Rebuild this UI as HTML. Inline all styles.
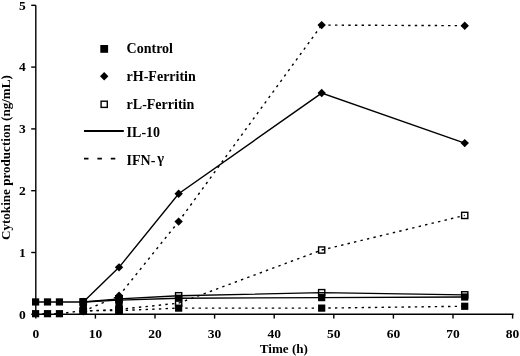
<!DOCTYPE html>
<html><head><meta charset="utf-8"><style>
html,body{margin:0;padding:0;background:#fff;width:520px;height:356px;overflow:hidden}
svg{display:block}
text.lg{font-size:14px}
text.ti{font-size:13.1px}
text{font-family:"Liberation Serif","Times New Roman",serif;font-weight:bold;font-size:13.5px;fill:#000}
</style></head><body>
<svg width="520" height="356" viewBox="0 0 520 356">
<rect width="520" height="356" fill="#fff"/>
<line x1="35.80" y1="5.30" x2="35.80" y2="314.90" stroke="#000" stroke-width="1.4" />
<line x1="35.10" y1="314.30" x2="513.60" y2="314.30" stroke="#000" stroke-width="1.4" />
<line x1="31.20" y1="314.30" x2="35.80" y2="314.30" stroke="#000" stroke-width="1.4" />
<line x1="31.20" y1="252.50" x2="35.80" y2="252.50" stroke="#000" stroke-width="1.4" />
<line x1="31.20" y1="190.70" x2="35.80" y2="190.70" stroke="#000" stroke-width="1.4" />
<line x1="31.20" y1="128.90" x2="35.80" y2="128.90" stroke="#000" stroke-width="1.4" />
<line x1="31.20" y1="67.10" x2="35.80" y2="67.10" stroke="#000" stroke-width="1.4" />
<line x1="31.20" y1="5.30" x2="35.80" y2="5.30" stroke="#000" stroke-width="1.4" />
<line x1="35.80" y1="314.30" x2="35.80" y2="318.60" stroke="#000" stroke-width="1.4" />
<line x1="95.40" y1="314.30" x2="95.40" y2="318.60" stroke="#000" stroke-width="1.4" />
<line x1="155.00" y1="314.30" x2="155.00" y2="318.60" stroke="#000" stroke-width="1.4" />
<line x1="214.60" y1="314.30" x2="214.60" y2="318.60" stroke="#000" stroke-width="1.4" />
<line x1="274.20" y1="314.30" x2="274.20" y2="318.60" stroke="#000" stroke-width="1.4" />
<line x1="333.80" y1="314.30" x2="333.80" y2="318.60" stroke="#000" stroke-width="1.4" />
<line x1="393.40" y1="314.30" x2="393.40" y2="318.60" stroke="#000" stroke-width="1.4" />
<line x1="453.00" y1="314.30" x2="453.00" y2="318.60" stroke="#000" stroke-width="1.4" />
<line x1="512.60" y1="314.30" x2="512.60" y2="318.60" stroke="#000" stroke-width="1.4" />
<polyline points="35.60,301.94 47.52,301.94 59.44,301.94 83.28,301.94 119.04,300.09 178.64,298.23 321.68,297.61 464.72,297.00" fill="none" stroke="#000" stroke-width="1.4"/>
<line x1="35.60" y1="313.68" x2="47.52" y2="313.68" stroke="#000" stroke-width="1.4" stroke-dasharray="2.4 4.25"/>
<line x1="47.52" y1="313.68" x2="59.44" y2="313.68" stroke="#000" stroke-width="1.4" stroke-dasharray="2.4 4.25"/>
<line x1="59.44" y1="313.68" x2="83.28" y2="310.59" stroke="#000" stroke-width="1.4" stroke-dasharray="2.4 4.25"/>
<line x1="83.28" y1="310.59" x2="119.04" y2="310.59" stroke="#000" stroke-width="1.4" stroke-dasharray="2.4 4.25"/>
<line x1="119.04" y1="310.59" x2="178.64" y2="308.12" stroke="#000" stroke-width="1.4" stroke-dasharray="2.4 4.25"/>
<line x1="178.64" y1="308.12" x2="321.68" y2="308.12" stroke="#000" stroke-width="1.4" stroke-dasharray="2.4 4.25"/>
<line x1="321.68" y1="308.12" x2="464.72" y2="306.27" stroke="#000" stroke-width="1.4" stroke-dasharray="2.4 4.25"/>
<polyline points="83.28,301.94 119.04,267.33 178.64,193.79 321.68,93.06 464.72,143.11" fill="none" stroke="#000" stroke-width="1.4"/>
<line x1="83.28" y1="311.21" x2="119.04" y2="295.76" stroke="#000" stroke-width="1.4" stroke-dasharray="2.4 4.25"/>
<line x1="119.04" y1="295.76" x2="178.64" y2="221.60" stroke="#000" stroke-width="1.4" stroke-dasharray="2.4 4.25"/>
<line x1="178.64" y1="221.60" x2="321.68" y2="25.08" stroke="#000" stroke-width="1.4" stroke-dasharray="2.4 4.25"/>
<line x1="321.68" y1="25.08" x2="464.72" y2="25.69" stroke="#000" stroke-width="1.4" stroke-dasharray="2.4 4.25"/>
<polyline points="83.28,301.94 119.04,298.85 178.64,295.76 321.68,292.67 464.72,294.83" fill="none" stroke="#000" stroke-width="1.4"/>
<line x1="83.28" y1="311.21" x2="119.04" y2="309.36" stroke="#000" stroke-width="1.4" stroke-dasharray="2.4 4.25"/>
<line x1="119.04" y1="309.36" x2="178.64" y2="303.18" stroke="#000" stroke-width="1.4" stroke-dasharray="2.4 4.25"/>
<line x1="178.64" y1="303.18" x2="321.68" y2="250.03" stroke="#000" stroke-width="1.4" stroke-dasharray="2.4 4.25"/>
<line x1="321.68" y1="250.03" x2="464.72" y2="215.42" stroke="#000" stroke-width="1.4" stroke-dasharray="2.4 4.25"/>
<rect x="32.00" y="298.34" width="7.2" height="7.2" fill="#000"/>
<rect x="43.92" y="298.34" width="7.2" height="7.2" fill="#000"/>
<rect x="55.84" y="298.34" width="7.2" height="7.2" fill="#000"/>
<rect x="79.68" y="298.34" width="7.2" height="7.2" fill="#000"/>
<rect x="115.44" y="296.49" width="7.2" height="7.2" fill="#000"/>
<rect x="175.04" y="294.63" width="7.2" height="7.2" fill="#000"/>
<rect x="318.08" y="294.01" width="7.2" height="7.2" fill="#000"/>
<rect x="461.12" y="293.40" width="7.2" height="7.2" fill="#000"/>
<rect x="32.00" y="310.08" width="7.2" height="7.2" fill="#000"/>
<rect x="43.92" y="310.08" width="7.2" height="7.2" fill="#000"/>
<rect x="55.84" y="310.08" width="7.2" height="7.2" fill="#000"/>
<rect x="79.68" y="306.99" width="7.2" height="7.2" fill="#000"/>
<rect x="115.44" y="306.99" width="7.2" height="7.2" fill="#000"/>
<rect x="175.04" y="304.52" width="7.2" height="7.2" fill="#000"/>
<rect x="318.08" y="304.52" width="7.2" height="7.2" fill="#000"/>
<rect x="461.12" y="302.67" width="7.2" height="7.2" fill="#000"/>
<path d="M83.28 297.74L87.48 301.94L83.28 306.14L79.08 301.94Z" fill="#000"/>
<path d="M119.04 263.13L123.24 267.33L119.04 271.53L114.84 267.33Z" fill="#000"/>
<path d="M178.64 189.59L182.84 193.79L178.64 197.99L174.44 193.79Z" fill="#000"/>
<path d="M321.68 88.86L325.88 93.06L321.68 97.26L317.48 93.06Z" fill="#000"/>
<path d="M464.72 138.91L468.92 143.11L464.72 147.31L460.52 143.11Z" fill="#000"/>
<path d="M83.28 307.01L87.48 311.21L83.28 315.41L79.08 311.21Z" fill="#000"/>
<path d="M119.04 291.56L123.24 295.76L119.04 299.96L114.84 295.76Z" fill="#000"/>
<path d="M178.64 217.40L182.84 221.60L178.64 225.80L174.44 221.60Z" fill="#000"/>
<path d="M321.68 20.88L325.88 25.08L321.68 29.28L317.48 25.08Z" fill="#000"/>
<path d="M464.72 21.49L468.92 25.69L464.72 29.89L460.52 25.69Z" fill="#000"/>
<rect x="80.18" y="298.84" width="6.2" height="6.2" fill="none" stroke="#000" stroke-width="1.4"/>
<rect x="115.94" y="295.75" width="6.2" height="6.2" fill="none" stroke="#000" stroke-width="1.4"/>
<rect x="175.54" y="292.66" width="6.2" height="6.2" fill="none" stroke="#000" stroke-width="1.4"/>
<rect x="318.58" y="289.57" width="6.2" height="6.2" fill="none" stroke="#000" stroke-width="1.4"/>
<rect x="461.62" y="291.73" width="6.2" height="6.2" fill="none" stroke="#000" stroke-width="1.4"/>
<rect x="80.18" y="308.11" width="6.2" height="6.2" fill="none" stroke="#000" stroke-width="1.4"/>
<rect x="115.94" y="306.26" width="6.2" height="6.2" fill="none" stroke="#000" stroke-width="1.4"/>
<rect x="175.54" y="300.08" width="6.2" height="6.2" fill="none" stroke="#000" stroke-width="1.4"/>
<rect x="318.58" y="246.93" width="6.2" height="6.2" fill="none" stroke="#000" stroke-width="1.4"/>
<rect x="461.62" y="212.32" width="6.2" height="6.2" fill="none" stroke="#000" stroke-width="1.4"/>
<rect x="79.68" y="298.34" width="7.2" height="15.96" fill="#000"/>
<rect x="115.44" y="295.25" width="7.2" height="19.05" fill="#000"/>
<text x="25.8" y="318.60" text-anchor="end">0</text>
<text x="25.8" y="256.80" text-anchor="end">1</text>
<text x="25.8" y="195.00" text-anchor="end">2</text>
<text x="25.8" y="133.20" text-anchor="end">3</text>
<text x="25.8" y="71.40" text-anchor="end">4</text>
<text x="25.8" y="9.60" text-anchor="end">5</text>
<text x="35.80" y="337.6" text-anchor="middle">0</text>
<text x="95.40" y="337.6" text-anchor="middle">10</text>
<text x="155.00" y="337.6" text-anchor="middle">20</text>
<text x="214.60" y="337.6" text-anchor="middle">30</text>
<text x="274.20" y="337.6" text-anchor="middle">40</text>
<text x="333.80" y="337.6" text-anchor="middle">50</text>
<text x="393.40" y="337.6" text-anchor="middle">60</text>
<text x="453.00" y="337.6" text-anchor="middle">70</text>
<text x="512.60" y="337.6" text-anchor="middle">80</text>
<text class="ti" x="283.9" y="353.3" text-anchor="middle">Time (h)</text>
<text class="ti" transform="translate(9.9 157.6) rotate(-90)" text-anchor="middle">Cytokine production (ng/mL)</text>
<rect x="100.30" y="45.00" width="7.8" height="7.8" fill="#000"/>
<path d="M104.20 72.00L108.40 76.20L104.20 80.40L100.00 76.20Z" fill="#000"/>
<rect x="101.10" y="101.20" width="6.2" height="6.2" fill="none" stroke="#000" stroke-width="1.4"/>
<line x1="84.00" y1="131.00" x2="123.80" y2="131.00" stroke="#000" stroke-width="1.8" />
<line x1="84.00" y1="158.60" x2="123.80" y2="158.60" stroke="#000" stroke-width="1.8" stroke-dasharray="4.5 8.9"/>
<text class="lg" x="126.6" y="53.2">Control</text>
<text class="lg" x="126.6" y="80.6">rH-Ferritin</text>
<text class="lg" x="126.6" y="109.3">rL-Ferritin</text>
<text class="lg" x="126.6" y="136.5">IL-10</text>
<text class="lg" x="126.6" y="164.5">IFN- <tspan dx="-1.6" dy="-1.4" style="font-size:14.5px">γ</tspan></text>
</svg>
</body></html>
